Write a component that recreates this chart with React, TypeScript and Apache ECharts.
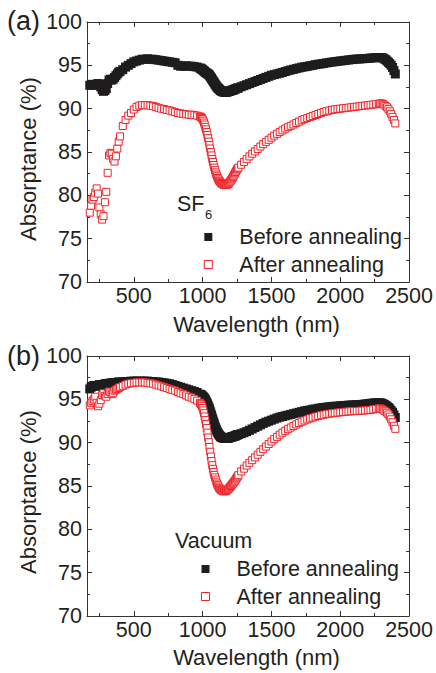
import React, { useEffect, useRef } from "react";
import * as echarts from "echarts";

// Wavelength (nm) at which the spectra are sampled
const wavelengths = [
  180, 190, 200, 210, 220, 230, 240, 250, 260, 270, 280, 290, 300, 310, 320, 330, 340, 350, 360, 370, 380, 390, 400,
  420, 440, 460, 480, 500, 520, 540, 560, 580, 600, 620, 640, 660, 680, 700, 720, 740, 760, 780, 800, 820, 840, 860, 880, 900, 920, 940, 960, 980,
  985, 990, 995, 1000, 1005, 1010, 1015, 1020, 1025, 1030, 1035, 1040, 1045, 1050, 1055, 1060, 1065, 1070, 1075, 1080, 1085, 1090, 1095, 1100,
  1105, 1110, 1115, 1120, 1125, 1130, 1135, 1140, 1145, 1150, 1155, 1160, 1165, 1170, 1175, 1180, 1185, 1190, 1195, 1200,
  1205, 1210, 1215, 1220, 1225, 1230, 1235, 1240, 1245, 1250, 1255, 1260,
  1280, 1300, 1320, 1340, 1360, 1380, 1400, 1420, 1440, 1460, 1480, 1500, 1520, 1540, 1560, 1580, 1600, 1620, 1640, 1660,
  1680, 1700, 1720, 1740, 1760, 1780, 1800, 1820, 1840, 1860, 1880, 1900, 1920, 1940, 1960, 1980, 2000, 2020, 2040, 2060,
  2080, 2100, 2120, 2140, 2160, 2180, 2200, 2220, 2240, 2260, 2280,
  2290, 2300, 2310, 2320, 2330, 2340, 2350, 2360, 2370, 2380, 2390, 2400,
];

// (a) SF6 annealing
const sf6Before = [
  92.7, 92.7, 92.8, 92.8, 92.7, 92.8, 92.9, 92.8, 92.5, 92.2, 92.0, 92.1, 92.3, 92.9, 93.3, 93.4, 93.3, 93.4, 93.6, 93.8, 94.0, 94.2, 94.3,
  94.5, 94.8, 95.0, 95.2, 95.4, 95.5, 95.6, 95.7, 95.7, 95.75, 95.7, 95.7, 95.65, 95.6, 95.55, 95.5, 95.45, 95.4, 95.35, 95.3, 95.0, 94.9, 94.9, 94.95, 94.9, 94.9, 94.85, 94.8, 94.7,
  94.65, 94.6, 94.55, 94.5, 94.42, 94.35, 94.28, 94.2, 94.15, 94.1, 94.05, 94.0, 93.92, 93.85, 93.72, 93.6, 93.48, 93.35, 93.22, 93.1, 92.98, 92.85, 92.72, 92.6,
  92.5, 92.4, 92.32, 92.25, 92.18, 92.1, 92.05, 92.0, 91.97, 91.95, 91.92, 91.9, 91.9, 91.9, 91.92, 91.95, 91.97, 92.0, 92.02, 92.05,
  92.08, 92.1, 92.12, 92.15, 92.18, 92.2, 92.25, 92.3, 92.32, 92.35, 92.38, 92.4,
  92.53, 92.65, 92.77, 92.89, 93.01, 93.13, 93.25, 93.37, 93.49, 93.61, 93.73, 93.85, 93.93, 94.01, 94.09, 94.18, 94.28, 94.38, 94.46, 94.54,
  94.62, 94.7, 94.78, 94.83, 94.88, 94.95, 95.0, 95.08, 95.13, 95.17, 95.22, 95.28, 95.33, 95.38, 95.42, 95.46, 95.5, 95.54, 95.58, 95.62,
  95.66, 95.7, 95.72, 95.74, 95.76, 95.78, 95.8, 95.84, 95.86, 95.88, 95.9,
  95.9, 95.9, 95.85, 95.75, 95.65, 95.5, 95.35, 95.2, 95.0, 94.75, 94.4, 94.0,
];
const sf6After = [
  78.0, 78.8, 79.5, 79.8, 80.3, 80.8, 80.2, 78.6, 77.8, 77.2, 77.6, 79.2, 80.4, 82.6, 84.6, 84.9, 84.8, 84.2, 83.9, 84.5, 85.4, 86.2, 86.8,
  88.0, 88.7, 89.2, 89.5, 89.9, 90.2, 90.35, 90.4, 90.4, 90.4, 90.35, 90.3, 90.2, 90.1, 90.0, 89.95, 89.85, 89.8, 89.7, 89.6, 89.5, 89.45, 89.4, 89.35, 89.3, 89.3, 89.25, 89.2, 89.1,
  89.05, 89.0, 88.92, 88.8, 88.62, 88.4, 88.17, 87.9, 87.62, 87.3, 86.96, 86.6, 86.2, 85.8, 85.4, 85.0, 84.6, 84.2, 83.85, 83.5, 83.2, 82.9, 82.65, 82.4,
  82.2, 82.0, 81.85, 81.7, 81.6, 81.5, 81.42, 81.35, 81.3, 81.25, 81.22, 81.2, 81.2, 81.2, 81.22, 81.25, 81.32, 81.4, 81.5, 81.6,
  81.72, 81.85, 81.97, 82.1, 82.25, 82.4, 82.55, 82.7, 82.85, 83.0, 83.1, 83.2,
  83.53, 83.85, 84.17, 84.49, 84.8, 85.07, 85.35, 85.63, 85.91, 86.17, 86.41, 86.65, 86.89, 87.1, 87.3, 87.5, 87.7, 87.86, 88.02, 88.18,
  88.34, 88.5, 88.66, 88.79, 88.91, 89.03, 89.15, 89.27, 89.39, 89.51, 89.62, 89.7, 89.78, 89.86, 89.92, 89.96, 90.0, 90.04, 90.08, 90.12,
  90.16, 90.2, 90.24, 90.28, 90.32, 90.36, 90.4, 90.44, 90.48, 90.52, 90.56,
  90.6, 90.6, 90.55, 90.45, 90.3, 90.15, 89.95, 89.7, 89.4, 89.05, 88.7, 88.3,
];

// (b) Vacuum annealing
const vacBefore = [
  96.2, 96.4, 96.5, 96.6, 96.6, 96.5, 96.6, 96.7, 96.6, 96.7, 96.7, 96.8, 96.8, 96.8, 96.85, 96.85, 96.9, 96.9, 96.9, 96.95, 96.95, 97.0, 97.0,
  97.0, 97.05, 97.05, 97.1, 97.1, 97.1, 97.1, 97.1, 97.1, 97.1, 97.05, 97.05, 97.0, 97.0, 96.95, 96.9, 96.85, 96.8, 96.7, 96.6, 96.5, 96.4, 96.3, 96.2, 96.1, 96.0, 95.9, 95.8, 95.6,
  95.55, 95.5, 95.43, 95.35, 95.28, 95.2, 95.08, 94.95, 94.8, 94.65, 94.48, 94.3, 94.1, 93.9, 93.65, 93.4, 93.15, 92.9, 92.65, 92.4, 92.15, 91.9, 91.7, 91.5,
  91.32, 91.15, 91.02, 90.9, 90.8, 90.7, 90.65, 90.6, 90.57, 90.55, 90.52, 90.5, 90.5, 90.5, 90.5, 90.5, 90.52, 90.55, 90.57, 90.6,
  90.62, 90.65, 90.67, 90.7, 90.72, 90.75, 90.77, 90.8, 90.85, 90.9, 90.92, 90.95,
  91.03, 91.15, 91.27, 91.42, 91.58, 91.74, 91.9, 92.06, 92.22, 92.36, 92.48, 92.6, 92.72, 92.84, 92.94, 93.02, 93.1, 93.18, 93.26, 93.34,
  93.42, 93.5, 93.58, 93.66, 93.72, 93.77, 93.85, 93.89, 93.96, 94.02, 94.06, 94.1, 94.14, 94.18, 94.2, 94.21, 94.25, 94.29, 94.3, 94.32,
  94.35, 94.35, 94.39, 94.4, 94.42, 94.46, 94.5, 94.54, 94.58, 94.6, 94.6,
  94.6, 94.55, 94.5, 94.4, 94.3, 94.2, 94.05, 93.9, 93.7, 93.5, 93.2, 92.9,
];
const vacAfter = [
  94.3, 94.6, 94.8, 95.0, 95.3, 94.6, 94.2, 94.5, 94.9, 95.5, 95.7, 95.4, 95.3, 95.6, 95.9, 95.8, 95.6, 95.7, 96.0, 96.1, 96.2, 96.3, 96.4,
  96.55, 96.7, 96.8, 96.85, 96.9, 96.95, 96.95, 96.95, 96.95, 96.9, 96.85, 96.8, 96.7, 96.6, 96.5, 96.4, 96.3, 96.2, 96.1, 96.0, 95.85, 95.7, 95.6, 95.45, 95.3, 95.2, 95.05, 94.85, 94.6,
  94.5, 94.4, 94.22, 94.0, 93.72, 93.4, 93.02, 92.6, 92.16, 91.7, 91.16, 90.6, 90.05, 89.5, 88.95, 88.4, 87.88, 87.4, 86.98, 86.6, 86.28, 86.0, 85.74, 85.5,
  85.28, 85.1, 84.94, 84.8, 84.7, 84.6, 84.55, 84.5, 84.45, 84.4, 84.4, 84.4, 84.42, 84.45, 84.5, 84.55, 84.62, 84.7, 84.8, 84.9,
  85.0, 85.1, 85.2, 85.3, 85.4, 85.5, 85.62, 85.75, 85.88, 86.0, 86.12, 86.25,
  86.68, 87.0, 87.35, 87.68, 87.98, 88.3, 88.62, 88.94, 89.25, 89.55, 89.85, 90.13, 90.41, 90.67, 90.92, 91.15, 91.36, 91.56, 91.75, 91.93,
  92.1, 92.26, 92.41, 92.55, 92.68, 92.8, 92.9, 93.0, 93.08, 93.16, 93.23, 93.29, 93.34, 93.39, 93.43, 93.47, 93.5, 93.54, 93.57, 93.6,
  93.62, 93.64, 93.66, 93.68, 93.7, 93.72, 93.75, 93.79, 93.84, 93.9, 93.95,
  93.95, 93.9, 93.8, 93.7, 93.6, 93.45, 93.25, 93.0, 92.7, 92.35, 91.95, 91.6,
];

const xMajorTicks = [500, 1000, 1500, 2000, 2500];
const xMinorTicks = [250, 750, 1250, 1750, 2250];
const seriesNames = ["Before annealing", "After annealing"];
const panelLabels = ["(a)", "(b)"];
const atmosphereLabels = ["SF", "Vacuum"];

const X_MIN = 160;
const X_MAX = 2500;
const BLACK = "#1e1c1d";
const RED = "#ee2229";
const TEXT = "#231f20";
const AXIS = "#333333";
const FONT = "'Liberation Sans', Arial, Helvetica, sans-serif";

const GRID_LEFT = 87;
const GRID_W = 323;
const GRID_H = 260;
const GRID_TOPS = [22, 356];

function xAxesFor(gridIndex: number) {
  const base = {
    gridIndex,
    type: "value" as const,
    min: X_MIN,
    max: X_MAX,
    splitLine: { show: false },
  };
  const line = { show: true, onZero: false, lineStyle: { color: AXIS, width: 1 } };
  return [
    {
      ...base,
      position: "bottom",
      axisLine: line,
      axisTick: { show: true, inside: true, length: 5, customValues: xMajorTicks, lineStyle: { color: AXIS } },
      axisLabel: {
        show: true,
        customValues: xMajorTicks,
        fontSize: 21.5,
        color: TEXT,
        fontFamily: FONT,
        margin: 3,
        formatter: (v: number) => String(v),
      },
    },
    {
      ...base,
      position: "bottom",
      axisLine: { show: false },
      axisTick: { show: true, inside: true, length: 3, customValues: xMinorTicks, lineStyle: { color: AXIS } },
      axisLabel: { show: false },
    },
    {
      ...base,
      position: "top",
      axisLine: line,
      axisTick: { show: true, inside: true, length: 5, customValues: xMajorTicks, lineStyle: { color: AXIS } },
      axisLabel: { show: false },
    },
    {
      ...base,
      position: "top",
      axisLine: { show: false },
      axisTick: { show: true, inside: true, length: 3, customValues: xMinorTicks, lineStyle: { color: AXIS } },
      axisLabel: { show: false },
    },
  ];
}

function yAxesFor(gridIndex: number) {
  const base = {
    gridIndex,
    type: "value" as const,
    min: 70,
    max: 100,
    interval: 5,
    splitLine: { show: false },
    minorSplitLine: { show: false },
    axisLine: { show: true, onZero: false, lineStyle: { color: AXIS, width: 1 } },
    axisTick: { show: true, inside: true, length: 5, lineStyle: { color: AXIS } },
    minorTick: { show: true, splitNumber: 2, length: 3, lineStyle: { color: AXIS } },
  };
  return [
    {
      ...base,
      position: "left",
      axisLabel: { show: true, fontSize: 21.5, color: TEXT, fontFamily: FONT, margin: 5 },
    },
    { ...base, position: "right", axisLabel: { show: false } },
  ];
}

function seriesFor(gridIndex: number, before: number[], after: number[]) {
  const toData = (vals: number[]) => wavelengths.map((w, i) => [w, vals[i]]);
  return [
    {
      type: "scatter",
      name: seriesNames[0],
      xAxisIndex: gridIndex * 4,
      yAxisIndex: gridIndex * 2,
      symbol: "rect",
      symbolSize: 9,
      itemStyle: { color: BLACK, opacity: 1 },
      data: toData(before),
      z: 2,
    },
    {
      type: "scatter",
      name: seriesNames[1],
      xAxisIndex: gridIndex * 4,
      yAxisIndex: gridIndex * 2,
      symbol: "rect",
      symbolSize: 7,
      itemStyle: { color: "#ffffff", borderColor: RED, borderWidth: 1, opacity: 1 },
      data: toData(after),
      z: 3,
    },
  ];
}

function legendFor(left: number, top: number) {
  return {
    orient: "vertical",
    left,
    top,
    padding: 0,
    itemGap: 5.5,
    itemWidth: 8,
    itemHeight: 8,
    selectedMode: false,
    data: [
      { name: seriesNames[0], icon: "rect", itemStyle: { color: BLACK, borderWidth: 0 } },
      { name: seriesNames[1], icon: "rect", itemStyle: { color: "#ffffff", borderColor: RED, borderWidth: 1 } },
    ],
    textStyle: { fontSize: 21.5, color: TEXT, fontFamily: FONT, lineHeight: 22, padding: [0, 0, 0, 22] },
  };
}

function txt(text: string, x: number, y: number, size: number, align = "left", rotation = 0) {
  return {
    type: "text",
    x,
    y,
    rotation,
    silent: true,
    style: {
      text,
      fill: TEXT,
      font: `${size}px ${FONT}`,
      align,
      verticalAlign: "middle",
    },
  };
}

export default function App() {
  const ref = useRef<HTMLDivElement>(null);

  useEffect(() => {
    if (!ref.current) return;
    const chart = echarts.init(ref.current, undefined, { renderer: "svg" });
    const option = {
      animation: false,
      backgroundColor: "#ffffff",
      grid: GRID_TOPS.map((top) => ({ left: GRID_LEFT, top, width: GRID_W, height: GRID_H, containLabel: false })),
      xAxis: [...xAxesFor(0), ...xAxesFor(1)],
      yAxis: [...yAxesFor(0), ...yAxesFor(1)],
      legend: [legendFor(203.8, 226), legendFor(201, 558)],
      series: [...seriesFor(0, sf6Before, sf6After), ...seriesFor(1, vacBefore, vacAfter)],
      graphic: [
        txt(panelLabels[0], 7, 21, 27),
        txt(panelLabels[1], 7, 356, 27),
        txt("Absorptance (%)", 28.5, 159, 22, "center", Math.PI / 2),
        txt("Absorptance (%)", 28.5, 492, 22, "center", Math.PI / 2),
        txt("Wavelength (nm)", 256.5, 324, 22, "center"),
        txt("Wavelength (nm)", 256.5, 657.5, 22, "center"),
        txt(atmosphereLabels[0], 177, 203.5, 21.5),
        txt("6", 205, 214, 13),
        txt(atmosphereLabels[1], 175, 541, 21.5),
      ],
    };
    chart.setOption(option as any);
    return () => {
      chart.dispose();
    };
  }, []);

  return (
    <div
      ref={ref}
      style={{ position: "absolute", left: 0, top: 0, width: 436, height: 673, background: "#fff" }}
    />
  );
}
